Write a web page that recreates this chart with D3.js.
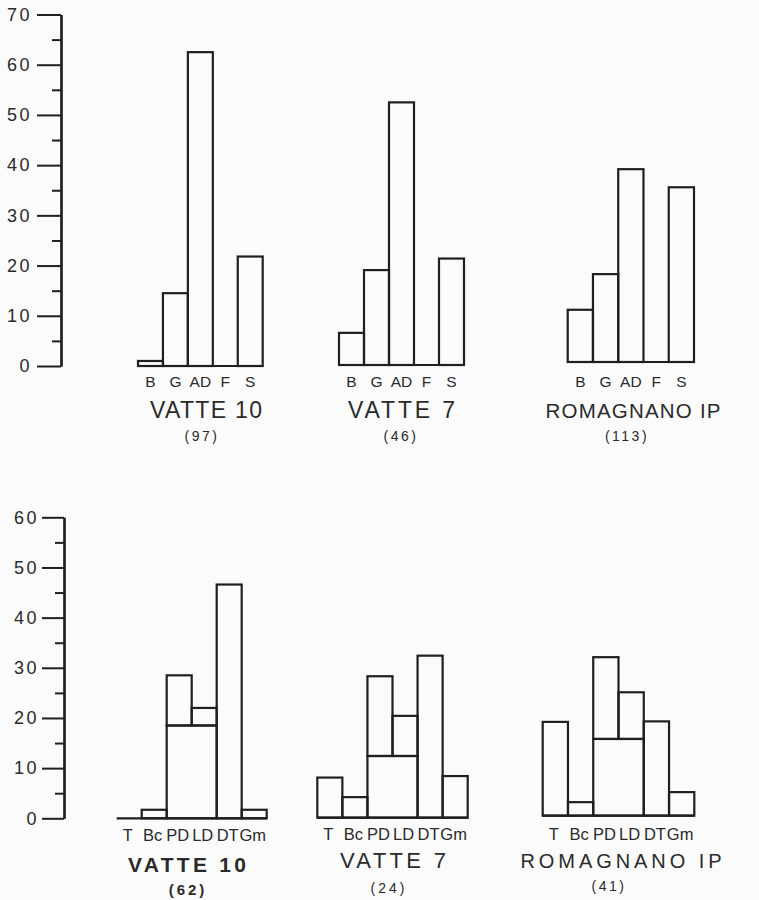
<!DOCTYPE html>
<html><head><meta charset="utf-8">
<script src="https://cdn.jsdelivr.net/npm/d3@7"></script>
<style>
html,body{margin:0;padding:0;background:#fbfbfb;}
svg{display:block;}
text{font-family:"Liberation Sans",Arial,Helvetica,sans-serif;fill:#2a2a2a;}
</style></head>
<body>
<svg id="chart" width="759" height="900"></svg>
<script>
// ---------- DATA ----------
const topCategories = ["B", "G", "AD", "F", "S"];
const topVatte10 = [1.0, 14.5, 62.5, 0, 21.8];
const topVatte7 = [6.4, 18.9, 52.3, 0, 21.2];
const topRomagnano = [10.4, 17.5, 38.4, 0, 34.8];
const topTitles = ["VATTE 10", "VATTE 7", "ROMAGNANO IP"];
const topCounts = ["(97)", "(46)", "(113)"];
const topTicks = [0, 10, 20, 30, 40, 50, 60, 70];

const bottomCategories = ["T", "Bc", "PD", "LD", "DT", "Gm"];
const botVatte10 = [0, 1.7, 28.5, 22.0, 46.6, 1.7];
const botVatte7 = [8.0, 4.1, 28.2, 20.3, 32.3, 8.3];
const botRomagnano = [18.7, 2.7, 31.6, 24.6, 18.8, 4.7];
// shared (undifferentiated) PD+LD base
const botSharedPDLD = [18.5, 12.3, 15.3];
const bottomTitles = ["VATTE 10", "VATTE 7", "ROMAGNANO IP"];
const bottomCounts = ["(62)", "(24)", "(41)"];
const bottomTicks = [0, 10, 20, 30, 40, 50, 60];

// ---------- LAYOUT ----------
const svg = d3.select("#chart");
const INK = "#1f1f1f";

const yTop = d3.scaleLinear().domain([0, 70]).range([366, 14.5]);
const yBot = d3.scaleLinear().domain([0, 60]).range([818.3, 517.3]);

function drawAxis(scale, x, ticks, majorLen, labelRight, maxV) {
  const g = svg.append("g").attr("transform", `translate(${x},0)`);
  const minor = d3.range(5, maxV, 10);
  g.call(d3.axisLeft(scale).tickValues(minor).tickSize(9).tickSizeOuter(0).tickFormat(""));
  const gM = svg.append("g").attr("transform", `translate(${x},0)`);
  gM.call(d3.axisLeft(scale).tickValues(ticks).tickSize(majorLen).tickSizeOuter(0).tickPadding(labelRight));
  [g, gM].forEach(a => {
    a.selectAll("path.domain").attr("stroke", INK).attr("stroke-width", 2.2);
    a.selectAll(".tick line").attr("stroke", INK).attr("stroke-width", 2);
  });
  gM.selectAll(".tick text")
    .attr("font-size", 18).attr("letter-spacing", 2.5).attr("fill", "#333")
    .attr("font-family", '"Liberation Sans",Arial,sans-serif');
}
drawAxis(yTop, 61, topTicks, 24, 5, 70);
drawAxis(yBot, 64, bottomTicks, 22, 3, 60);

// ---------- TOP PANELS ----------
const topPanels = [
  {vals: topVatte10, x0: 138, x1: 262.7, dy: 0, tx: 206, tw: 112, ts: 23, cx: 202},
  {vals: topVatte7, x0: 339, x1: 464, dy: -1, tx: 401.5, tw: 107, ts: 23, cx: 401},
  {vals: topRomagnano, x0: 567.7, x1: 694, dy: -4, tx: 633, tw: 175, ts: 20.5, cx: 627}
];
topPanels.forEach((p, i) => {
  const g = svg.append("g").attr("transform", `translate(0,${p.dy})`);
  const x = d3.scaleBand().domain(topCategories).range([p.x0, p.x1]).paddingInner(0).paddingOuter(0);
  const data = topCategories.map((c, k) => ({c, v: p.vals[k]}));
  g.selectAll("rect.bar").data(data.filter(d => d.v > 0)).join("rect")
    .attr("class", "bar")
    .attr("x", d => x(d.c)).attr("width", x.bandwidth())
    .attr("y", d => yTop(d.v)).attr("height", d => yTop(0) - yTop(d.v))
    .attr("fill", "none").attr("stroke", INK).attr("stroke-width", 2.2);
  g.append("line").attr("x1", p.x0).attr("x2", p.x1).attr("y1", yTop(0)).attr("y2", yTop(0))
    .attr("stroke", INK).attr("stroke-width", 2.2);
  g.selectAll("text.cat").data(topCategories).join("text")
    .attr("class", "cat")
    .attr("x", c => x(c) + x.bandwidth() / 2).attr("y", 387 - p.dy)
    .attr("text-anchor", "middle").attr("font-size", 15.5).text(c => c);
  svg.append("text").attr("x", p.tx).attr("y", 418).attr("text-anchor", "middle")
    .attr("font-size", p.ts).attr("textLength", p.tw).attr("lengthAdjust", "spacing")
    .text(topTitles[i]);
  svg.append("text").attr("x", p.cx).attr("y", 441).attr("text-anchor", "middle")
    .attr("font-size", 14).attr("letter-spacing", 2.5).text(topCounts[i]);
});

// ---------- BOTTOM PANELS ----------
const botPanels = [
  {vals: botVatte10, shared: botSharedPDLD[0], x0: 116.7, x1: 266.7, dy: 0, tx: 187, tw: 118, ty: 872, ts: 21, bold: true, cx: 188, cy: 895, cw: 3},
  {vals: botVatte7, shared: botSharedPDLD[1], x0: 317.3, x1: 467.7, dy: -0.6, tx: 393, tw: 106, ty: 868, ts: 22, bold: false, cx: 389, cy: 893, cw: 3},
  {vals: botRomagnano, shared: botSharedPDLD[2], x0: 542.7, x1: 694.3, dy: -2.6, tx: 621, tw: 201, ty: 868, ts: 20, bold: false, cx: 609, cy: 891, cw: 2.5}
];
botPanels.forEach((p, i) => {
  const g = svg.append("g").attr("transform", `translate(0,${p.dy})`);
  const x = d3.scaleBand().domain(bottomCategories).range([p.x0, p.x1]).paddingInner(0).paddingOuter(0);
  const data = bottomCategories.map((c, k) => ({c, v: p.vals[k]}));
  const stroke = sel => sel.attr("fill", "none").attr("stroke", INK).attr("stroke-width", 2.2);
  // simple bars (not PD / LD)
  g.selectAll("rect.bar").data(data.filter(d => d.v > 0 && d.c !== "PD" && d.c !== "LD")).join("rect")
    .attr("class", "bar")
    .attr("x", d => x(d.c)).attr("width", x.bandwidth())
    .attr("y", d => yBot(d.v)).attr("height", d => yBot(0) - yBot(d.v))
    .call(stroke);
  // shared PD+LD base box
  g.append("rect").attr("x", x("PD")).attr("width", 2 * x.bandwidth())
    .attr("y", yBot(p.shared)).attr("height", yBot(0) - yBot(p.shared)).call(stroke);
  // PD and LD upper parts
  g.selectAll("rect.upper").data(data.filter(d => d.c === "PD" || d.c === "LD")).join("rect")
    .attr("class", "upper")
    .attr("x", d => x(d.c)).attr("width", x.bandwidth())
    .attr("y", d => yBot(d.v)).attr("height", d => yBot(p.shared) - yBot(d.v))
    .call(stroke);
  g.append("line").attr("x1", p.x0).attr("x2", p.x1).attr("y1", yBot(0)).attr("y2", yBot(0))
    .attr("stroke", INK).attr("stroke-width", 2.2);
  g.selectAll("text.cat").data(bottomCategories).join("text")
    .attr("class", "cat")
    .attr("x", c => x(c) + x.bandwidth() / 2 - 1.5).attr("y", 840.5 + (-p.dy))
    .attr("text-anchor", "middle").attr("font-size", 16.5).text(c => c);
  svg.append("text").attr("x", p.tx).attr("y", p.ty).attr("text-anchor", "middle")
    .attr("font-size", p.ts).attr("font-weight", p.bold ? "bold" : "normal")
    .attr("textLength", p.tw).attr("lengthAdjust", "spacing")
    .text(bottomTitles[i]);
  svg.append("text").attr("x", p.cx).attr("y", p.cy).attr("text-anchor", "middle")
    .attr("font-size", p.bold ? 15 : 14).attr("font-weight", p.bold ? "bold" : "normal")
    .attr("letter-spacing", p.cw).text(bottomCounts[i]);
});
</script>
</body></html>
